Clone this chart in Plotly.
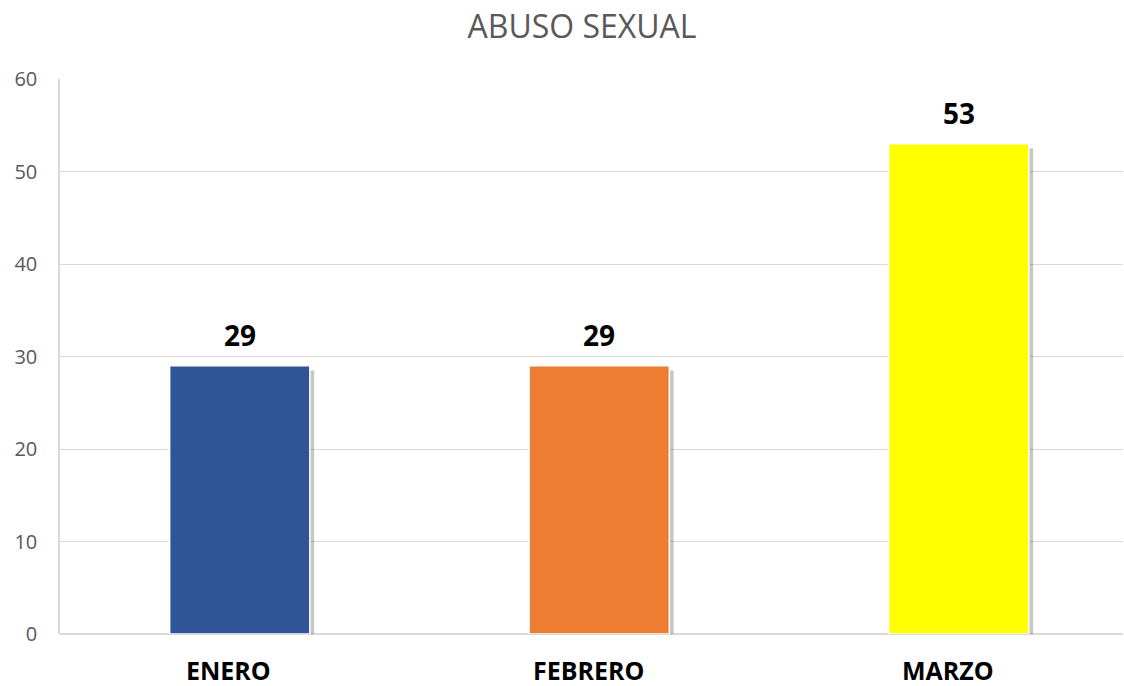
import plotly.graph_objects as go

categories = ["ENERO", "FEBRERO", "MARZO"]
values = [29, 29, 53]
colors = ["#2F5597", "#ED7D31", "#FFFF00"]
title_text = "ABUSO SEXUAL"

bar_w = 0.39
x_idx = list(range(len(categories)))
FONT = "Open Sans, Liberation Sans, sans-serif"

fig = go.Figure()

# subtle drop shadow behind the bars
fig.add_trace(go.Bar(
    x=x_idx, y=[v - 0.25 for v in values], base=[-0.25] * len(values),
    width=bar_w, offset=-bar_w / 2 + 0.012,
    marker=dict(color="rgba(0,0,0,0.22)", line=dict(width=0)),
    hoverinfo="skip", showlegend=False,
))
fig.add_trace(go.Bar(
    x=x_idx, y=values, width=bar_w, offset=-bar_w / 2,
    marker=dict(color=colors, line=dict(color="white", width=1.5)),
    showlegend=False,
))

for i, v in zip(x_idx, values):
    fig.add_annotation(
        x=i, y=v, text=f"<b>{v}</b>", showarrow=False, yshift=31,
        font=dict(family=FONT, size=28, color="black"),
    )

# category labels (slightly left of bar centre, as in the reference)
for i, c in zip(x_idx, categories):
    fig.add_annotation(
        x=i, y=0, text=f"<b>{c}</b>", showarrow=False, yshift=-36, xshift=-11,
        font=dict(family=FONT, size=25, color="black"),
    )

fig.update_layout(
    width=1124, height=686,
    barmode="overlay",
    plot_bgcolor="white", paper_bgcolor="white",
    margin=dict(l=60, r=1, t=79, b=52),
    title=dict(text=title_text, x=582 / 1124, xanchor="center", xref="container",
               y=1 - 27 / 686, yanchor="middle", yref="container",
               font=dict(family=FONT, size=32, color="#595959")),
    xaxis=dict(
        tickmode="array", tickvals=x_idx, showticklabels=False,
        range=[-0.5, 2.457], showgrid=False, zeroline=False,
        showline=False, ticks="",
    ),
    yaxis=dict(
        range=[0, 60], dtick=10, showgrid=True, gridcolor="#D9D9D9", gridwidth=1.3,
        zeroline=True, zerolinecolor="#D9D9D9", zerolinewidth=1.5,
        showline=True, linecolor="#D9D9D9", linewidth=1.5,
        ticks="", ticklabelstandoff=17,
        tickfont=dict(family=FONT, size=20, color="#595959"),
    ),
)

fig.write_html("out.html", config={"displayModeBar": False},
               post_script="document.body.style.margin='0';document.body.style.overflow='hidden';")
